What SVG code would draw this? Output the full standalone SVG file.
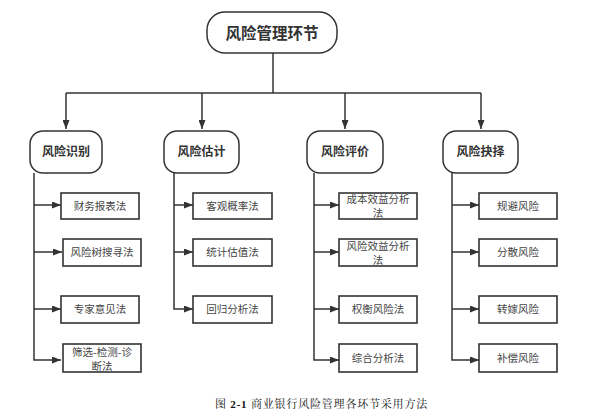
<svg xmlns="http://www.w3.org/2000/svg" width="611" height="415" viewBox="0 0 611 415">
<style>
.r{fill:#fff;stroke:#333;stroke-width:1.5}
.b{fill:#fff;stroke:#333;stroke-width:1.6}
.t1{font-family:"Noto Sans CJK SC","Noto Sans",sans-serif;font-size:15.5px;font-weight:bold;fill:#333;text-anchor:middle}
.t2{font-family:"Noto Sans CJK SC","Noto Sans",sans-serif;font-size:12px;font-weight:bold;fill:#333;text-anchor:middle}
.t3{font-family:"Noto Sans CJK SC","Noto Sans",sans-serif;font-size:10.5px;fill:#444;text-anchor:middle}
.c{fill:none;stroke:#333;stroke-width:1.5}
.cap{font-family:"Liberation Serif","Noto Serif CJK SC","Noto Sans CJK SC",serif;font-size:11px;fill:#111}
</style>
<defs>
<marker id="ah2" viewBox="0 0 10 10" refX="10" refY="5" markerWidth="9" markerHeight="7" orient="auto" markerUnits="userSpaceOnUse" preserveAspectRatio="none">
<path d="M0,0 L10,5 L0,10 Z" fill="#333"/>
</marker>
</defs>
<g id="connectors">
<path class="c" d="M273,53 V93"/>
<path class="c" d="M66,93 H481"/>
<path class="c" d="M66,93 V129" marker-end="url(#ah2)"/>
<path class="c" d="M202,93 V129" marker-end="url(#ah2)"/>
<path class="c" d="M345,93 V129" marker-end="url(#ah2)"/>
<path class="c" d="M481,93 V129" marker-end="url(#ah2)"/>
<path class="c" d="M34,173 V360 H61" marker-end="url(#ah2)"/>
<path class="c" d="M34,205 H61" marker-end="url(#ah2)"/>
<path class="c" d="M34,252 H62" marker-end="url(#ah2)"/>
<path class="c" d="M34,309 H61" marker-end="url(#ah2)"/>
<path class="c" d="M174,173 V309 H193" marker-end="url(#ah2)"/>
<path class="c" d="M174,205 H193" marker-end="url(#ah2)"/>
<path class="c" d="M174,252 H193" marker-end="url(#ah2)"/>
<path class="c" d="M314,173 V360 H339" marker-end="url(#ah2)"/>
<path class="c" d="M314,205 H339" marker-end="url(#ah2)"/>
<path class="c" d="M314,252 H339" marker-end="url(#ah2)"/>
<path class="c" d="M314,309 H339" marker-end="url(#ah2)"/>
<path class="c" d="M452,173 V360 H479" marker-end="url(#ah2)"/>
<path class="c" d="M452,205 H479" marker-end="url(#ah2)"/>
<path class="c" d="M452,252 H479" marker-end="url(#ah2)"/>
<path class="c" d="M452,309 H479" marker-end="url(#ah2)"/>
</g>
<g id="root"><rect class="r" x="207" y="12" width="130" height="41" rx="18"/><text class="t1" x="272" y="39">风险管理环节</text></g>
<g id="n1"><rect class="r" x="30" y="131" width="72" height="42" rx="13"/><text class="t2" x="66" y="156">风险识别</text></g>
<g id="n2"><rect class="r" x="164" y="131" width="75" height="42" rx="13"/><text class="t2" x="201.5" y="156">风险估计</text></g>
<g id="n3"><rect class="r" x="307" y="131" width="76" height="42" rx="13"/><text class="t2" x="345" y="156">风险评价</text></g>
<g id="n4"><rect class="r" x="443" y="131" width="75" height="42" rx="13"/><text class="t2" x="480.5" y="156">风险抉择</text></g>
<g id="a1"><rect class="b" x="61" y="193" width="78" height="26"/><text class="t3" x="100" y="210">财务报表法</text></g>
<g id="a2"><rect class="b" x="63" y="239" width="78" height="27"/><text class="t3" x="102" y="256">风险树搜寻法</text></g>
<g id="a3"><rect class="b" x="61" y="296" width="78" height="27"/><text class="t3" x="100" y="313">专家意见法</text></g>
<g id="a4"><rect class="b" x="63" y="344" width="78" height="28"/><text class="t3" x="102" y="355.5">筛选-检测-诊</text><text class="t3" x="102" y="369.5">断法</text></g>
<g id="b1"><rect class="b" x="193" y="193" width="79" height="26"/><text class="t3" x="232.5" y="210">客观概率法</text></g>
<g id="b2"><rect class="b" x="193" y="239" width="79" height="27"/><text class="t3" x="232.5" y="256">统计估值法</text></g>
<g id="b3"><rect class="b" x="193" y="296" width="79" height="27"/><text class="t3" x="232.5" y="313">回归分析法</text></g>
<g id="c1"><rect class="b" x="339" y="193" width="78" height="26"/><text class="t3" x="378" y="203">成本效益分析</text><text class="t3" x="378" y="217">法</text></g>
<g id="c2"><rect class="b" x="339" y="239" width="78" height="27"/><text class="t3" x="378" y="250">风险效益分析</text><text class="t3" x="378" y="264">法</text></g>
<g id="c3"><rect class="b" x="339" y="296" width="78" height="27"/><text class="t3" x="378" y="313">权衡风险法</text></g>
<g id="c4"><rect class="b" x="339" y="344" width="78" height="28"/><text class="t3" x="378" y="362">综合分析法</text></g>
<g id="d1"><rect class="b" x="479" y="193" width="78" height="26"/><text class="t3" x="518" y="210">规避风险</text></g>
<g id="d2"><rect class="b" x="479" y="239" width="78" height="27"/><text class="t3" x="518" y="256">分散风险</text></g>
<g id="d3"><rect class="b" x="479" y="296" width="78" height="27"/><text class="t3" x="518" y="313">转嫁风险</text></g>
<g id="d4"><rect class="b" x="479" y="344" width="78" height="28"/><text class="t3" x="518" y="362">补偿风险</text></g>
<text class="cap" x="215" y="408" letter-spacing="0.8">图 <tspan font-weight="bold">2-1</tspan> 商业银行风险管理各环节采用方法</text>
</svg>
